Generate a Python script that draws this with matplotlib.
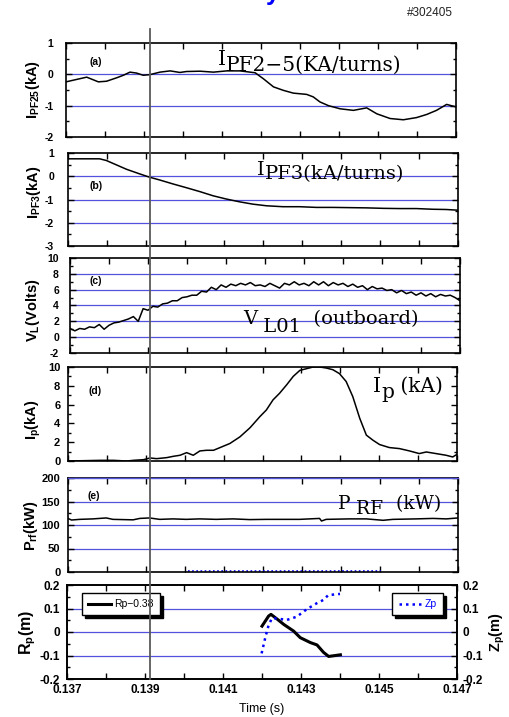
import numpy as np
import matplotlib
matplotlib.use("Agg")
import matplotlib.pyplot as plt
from matplotlib.ticker import MultipleLocator, FixedLocator, FuncFormatter

plt.rcParams['font.family'] = ['Liberation Sans', 'DejaVu Sans']
plt.rcParams['font.weight'] = 'bold'
plt.rcParams['mathtext.fontset'] = 'custom'
plt.rcParams['mathtext.bf'] = 'Liberation Sans:bold'
plt.rcParams['mathtext.rm'] = 'Liberation Sans:bold'
plt.rcParams['axes.unicode_minus'] = False

# ---------------- data ----------------
time_ticks = [0.137, 0.139, 0.141, 0.143, 0.145, 0.147]

t_pf25 = [0.13700, 0.13753, 0.13783, 0.13804, 0.13830, 0.13847, 0.13864, 0.13881, 0.13898,
          0.13915, 0.13941, 0.13967, 0.13992, 0.14009, 0.14044, 0.14078, 0.14112, 0.14146,
          0.14172, 0.14185, 0.14206, 0.14232, 0.14257, 0.14283, 0.14317, 0.14334, 0.14351,
          0.14373, 0.14403, 0.14437, 0.14471, 0.14497, 0.14531, 0.14565, 0.14599, 0.14625,
          0.14650, 0.14676, 0.14700]
i_pf25 = [-0.24, -0.09, -0.24, -0.22, -0.11, -0.03, 0.07, 0.04, -0.03,
          -0.01, 0.07, 0.11, 0.06, 0.09, 0.10, 0.07, 0.11, 0.11,
          0.07, 0.05, -0.14, -0.40, -0.51, -0.60, -0.64, -0.72, -0.88,
          -1.00, -1.10, -1.15, -1.07, -1.26, -1.41, -1.45, -1.38, -1.28,
          -1.15, -0.96, -1.04]

t_pf3 = [0.13700, 0.13781, 0.13798, 0.13824, 0.13850, 0.13884, 0.13909, 0.13935, 0.13969,
         0.14003, 0.14038, 0.14072, 0.14106, 0.14140, 0.14174, 0.14209, 0.14251, 0.14294,
         0.14337, 0.14379, 0.14422, 0.14465, 0.14508, 0.14550, 0.14593, 0.14636, 0.14670,
         0.14700]
i_pf3 = [0.75, 0.75, 0.68, 0.49, 0.30, 0.10, -0.04, -0.16, -0.33,
         -0.49, -0.66, -0.84, -0.98, -1.10, -1.20, -1.27, -1.31, -1.31,
         -1.34, -1.34, -1.35, -1.36, -1.38, -1.39, -1.39, -1.42, -1.43,
         -1.46]

v_loop = [1.1, 0.8, 1.1, 1.0, 1.3, 1.2, 1.6, 1.0, 1.5, 1.8, 1.9, 2.1, 2.3, 2.6, 2.0, 3.6,
          3.4, 3.9, 3.8, 4.2, 4.3, 4.6, 4.6, 5.0, 5.1, 5.3, 5.3, 5.8, 5.7, 6.3, 6.0, 6.6,
          6.3, 6.7, 6.5, 6.8, 6.6, 6.9, 6.5, 6.6, 6.4, 6.8, 6.5, 6.2, 6.8, 6.6, 7.0, 6.6,
          6.8, 6.5, 7.0, 6.6, 7.0, 6.5, 6.9, 6.6, 6.8, 6.4, 6.7, 6.3, 6.5, 6.0, 6.4, 6.1,
          6.2, 5.9, 6.0, 5.6, 5.9, 5.5, 5.7, 5.3, 5.6, 5.2, 5.5, 5.1, 5.4, 5.2, 5.3, 5.0,
          4.6]
t_vloop = np.linspace(0.137, 0.147, len(v_loop))

t_ip = [0.13700, 0.13783, 0.13817, 0.13851, 0.13868, 0.13894, 0.13911, 0.13928, 0.13954,
        0.13971, 0.13988, 0.14005, 0.14022, 0.14039, 0.14056, 0.14074, 0.14091, 0.14116,
        0.14142, 0.14168, 0.14193, 0.14210, 0.14227, 0.14244, 0.14262, 0.14279, 0.14296,
        0.14313, 0.14330, 0.14347, 0.14364, 0.14381, 0.14398, 0.14415, 0.14432, 0.14450,
        0.14467, 0.14484, 0.14501, 0.14526, 0.14552, 0.14578, 0.14603, 0.14621, 0.14646,
        0.14672, 0.14689, 0.14700]
ip = [0.0, 0.07, 0.07, 0.0, 0.07, 0.14, 0.32, 0.25, 0.36,
      0.50, 0.61, 0.89, 0.61, 1.07, 1.14, 1.14, 1.43, 1.86,
      2.57, 3.54, 4.71, 5.43, 6.50, 7.21, 8.10, 9.00, 9.64,
      9.82, 10.0, 10.0, 9.89, 9.71, 9.29, 8.46, 6.86, 4.54,
      2.75, 2.21, 1.75, 1.43, 1.32, 1.07, 0.79, 0.96, 0.79,
      0.61, 0.43, 0.71]

t_prf = [0.13700, 0.13709, 0.13730, 0.13764, 0.13798, 0.13815, 0.13867, 0.13884, 0.13909,
         0.13935, 0.13969, 0.14003, 0.14038, 0.14080, 0.14123, 0.14166, 0.14209, 0.14251,
         0.14294, 0.14345, 0.14350, 0.14362, 0.14422, 0.14465, 0.14508, 0.14533, 0.14593,
         0.14636, 0.14670, 0.14700]
p_rf = [114, 110.6, 112, 113, 115, 112, 111, 114, 115,
        112, 113, 112, 113, 112, 113, 111.5, 112, 112,
        112, 114, 108.5, 112, 113, 113, 110, 112, 113,
        114, 113, 115]
t_prf_low = [0.14008, 0.14503]
p_rf_low = [1.5, 1.5]

t_rp = [0.14200, 0.14217, 0.14223, 0.14238, 0.14256, 0.14281, 0.14298, 0.14324, 0.14341,
        0.14358, 0.14371, 0.14384, 0.14401]
rp = [0.025, 0.068, 0.075, 0.056, 0.032, 0.004, -0.024, -0.045, -0.055,
      -0.087, -0.104, -0.101, -0.097]

t_zp = [0.14199, 0.14208, 0.14216, 0.14225, 0.14238, 0.14263, 0.14289, 0.14315, 0.14340,
        0.14357, 0.14370, 0.14400]
zp = [-0.091, -0.027, 0.023, 0.058, 0.058, 0.051, 0.065, 0.097, 0.122,
      0.136, 0.157, 0.162]

t_marker = 0.13912
shot = "#302405"

# ---------------- layout ----------------
W, H = 510, 717
grid_c = '#5252dc'


def px_box(left, top, right, bottom):
    return [left / W, 1 - bottom / H, (right - left) / W, (bottom - top) / H]


def yfmt(v, p):
    if abs(v) < 1e-9:
        v = 0
    return f'{round(v, 6):g}'


def setup(ax, ylim, major, minor, grid_vals, labelsize, pad):
    ax.set_xlim(0.137, 0.147)
    ax.set_ylim(*ylim)
    ax.xaxis.set_major_locator(FixedLocator(time_ticks))
    ax.xaxis.set_minor_locator(MultipleLocator(0.001))
    ax.yaxis.set_major_locator(MultipleLocator(major))
    ax.yaxis.set_minor_locator(MultipleLocator(minor))
    ax.yaxis.set_major_formatter(FuncFormatter(yfmt))
    ax.xaxis.set_major_formatter(FuncFormatter(lambda v, p: f'{v:.3f}'))
    ax.tick_params(which='both', direction='in', top=True, right=True, width=1)
    ax.tick_params(which='major', length=4, labelsize=labelsize)
    ax.tick_params(axis='y', which='major', pad=pad)
    ax.tick_params(axis='y', which='minor', length=2.5)
    ax.tick_params(axis='x', which='minor', length=4)
    for s in ax.spines.values():
        s.set_linewidth(1.2)
    for g in grid_vals:
        ax.axhline(g, color=grid_c, lw=0.9, zorder=1)


def big_label(ax, x, y, parts, size):
    # parts: list of (text, vertical offset in points relative to the first part)
    first = ax.text(x, y, parts[0][0], transform=ax.transAxes, va='bottom', ha='left',
                    fontfamily='DejaVu Serif', fontweight='normal', fontsize=size)
    prev, prev_off = first, 0.0
    for txt, off in parts[1:]:
        prev = ax.annotate(txt, xy=(1, 0), xycoords=prev, xytext=(0, off - prev_off),
                           textcoords='offset points', va='bottom', ha='left',
                           fontfamily='DejaVu Serif', fontweight='normal', fontsize=size)
        prev_off = off


fig = plt.figure(figsize=(W / 100, H / 100), dpi=100)

ax_a = fig.add_axes(px_box(66, 43, 456, 137))
ax_b = fig.add_axes(px_box(68, 153, 458, 246))
ax_c = fig.add_axes(px_box(70, 258, 460, 353))
ax_d = fig.add_axes(px_box(68, 367, 457, 461))
ax_e = fig.add_axes(px_box(68, 478, 458, 572))
ax_f = fig.add_axes(px_box(67, 585, 457, 679))

setup(ax_a, (-2, 1), 1, 0.5, [0, -1], 7.5, 9)
setup(ax_b, (-3, 1), 1, 0.5, [0, -1, -2], 7.5, 10)
setup(ax_c, (-2, 10), 2, 1, [0, 2, 4, 6, 8], 7.5, 8)
setup(ax_d, (0, 10), 2, 1, [], 8, 5.5)
setup(ax_e, (0, 200), 50, 25, [50, 100, 150], 8, 5.5)
setup(ax_f, (-0.2, 0.2), 0.1, 0.05, [0.1, 0, -0.1], 8.5, 5)
ax_e.axhline(200, color=grid_c, lw=1.0, zorder=3, clip_on=False)

for ax in (ax_a, ax_b, ax_c, ax_d, ax_e):
    ax.tick_params(axis='x', labelbottom=False)

lk = dict(color='black', lw=1.1)
ax_a.plot(t_pf25, i_pf25, **lk)
ax_b.plot(t_pf3, i_pf3, **lk)
ax_c.plot(t_vloop, v_loop, **lk)
ax_d.plot(t_ip, ip, **lk)
ax_e.plot(t_prf, p_rf, **lk)
ax_e.plot(t_prf_low, p_rf_low, color='blue', lw=1.2, ls=(0, (1, 1.5)))

# panel tags
for ax, tag, x, y in [(ax_a, '(a)', 0.077, 0.80), (ax_b, '(b)', 0.072, 0.65),
                      (ax_c, '(c)', 0.067, 0.758), (ax_d, '(d)', 0.069, 0.745),
                      (ax_e, '(e)', 0.067, 0.81)]:
    ax.text(x, y, tag, transform=ax.transAxes, ha='center', va='center', fontsize=7.5)

# y labels
ylabs = [(ax_a, r'$\mathbf{I}_{\mathbf{PF25}}\mathbf{(kA)}$', -0.062, 0.5, 10.5),
         (ax_b, r'$\mathbf{I}_{\mathbf{PF3}}\mathbf{(kA)}$', -0.064, 0.58, 10.5),
         (ax_c, r'$\mathbf{V}_{\mathbf{L}}\mathbf{(Volts)}$', -0.072, 0.45, 10.5),
         (ax_d, r'$\mathbf{I}_{\mathbf{p}}\mathbf{(kA)}$', -0.064, 0.436, 10.5),
         (ax_e, r'$\mathbf{P}_{\mathbf{rf}}\mathbf{(kW)}$', -0.072, 0.49, 10.5),
         (ax_f, r'$\mathbf{R}_{\mathbf{p}}\mathbf{(m)}$', -0.074, 0.5, 11.5)]
for ax, lab, x, y, fs in ylabs:
    ax.set_ylabel(lab, fontsize=fs)
    ax.yaxis.set_label_coords(x, y)

# big annotations inside panels
big_label(ax_a, 0.39, 0.72, [('I', 0), ('PF2\u22125(KA/turns)', -4)], 14.5)
big_label(ax_b, 0.485, 0.72, [('I', 0), ('PF3(kA/turns)', -3)], 14)
big_label(ax_c, 0.444, 0.26, [('V', 0), (' L01', -5.5), ('  (outboard)', 0)], 14)
big_label(ax_d, 0.784, 0.69, [('I', 0), ('p', -4), (' (kA)', 0)], 14.5)
big_label(ax_e, 0.692, 0.63, [('P', 0), (' RF', -3.6), ('  (kW)', 0)], 13.5)

# bottom panel: Rp (left) and Zp (right)
ln_r, = ax_f.plot(t_rp, rp, color='black', lw=2.2, label='Rp\u22120.38')
ax_f2 = ax_f.twinx()
ax_f2.set_ylim(-0.2, 0.2)
ax_f2.yaxis.set_major_locator(MultipleLocator(0.1))
ax_f2.yaxis.set_minor_locator(MultipleLocator(0.05))
ax_f2.yaxis.set_major_formatter(FuncFormatter(yfmt))
ax_f2.tick_params(which='both', direction='in', width=1, labelsize=8.5, pad=4)
ax_f2.tick_params(which='major', length=4)
ax_f2.tick_params(which='minor', length=2.5)
for s in ax_f2.spines.values():
    s.set_linewidth(1.2)
ln_z, = ax_f2.plot(t_zp, zp, color='blue', lw=1.8, ls=(0, (1, 1.6)), label='Zp')
ax_f2.set_ylabel(r'$\mathbf{Z}_{\mathbf{p}}\mathbf{(m)}$', fontsize=10.5, rotation=90)
ax_f2.yaxis.set_label_coords(1.077, 0.5)

shadow = {'color': 'black', 'alpha': 1}
leg1 = ax_f.legend(handles=[ln_r], loc='upper left', bbox_to_anchor=(0.038, 0.915),
                   borderaxespad=0, fancybox=False, edgecolor='black', framealpha=1,
                   shadow=shadow, prop={'weight': 'normal', 'size': 7.5},
                   handlelength=2.2, handletextpad=0.3, borderpad=0.6)
leg1.get_frame().set_linewidth(1.0)
leg2 = ax_f2.legend(handles=[ln_z], loc='upper right', bbox_to_anchor=(0.964, 0.915),
                    borderaxespad=0, fancybox=False, edgecolor='black', framealpha=1,
                    shadow=shadow, prop={'weight': 'normal', 'size': 7.5},
                    handlelength=2.2, handletextpad=0.3, borderpad=0.6, labelcolor='blue')
leg2.get_frame().set_linewidth(1.0)

ax_f.set_xlabel('Time (s)', fontsize=9, labelpad=5)

# vertical time marker through all panels
ax_f2.axvline(t_marker, ymin=0, ymax=(679 - 29) / 94, clip_on=False,
              color='#5a5a5a', lw=1.3, zorder=5)

fig.text(453 / W, 1 - 13 / H, shot, ha='right', va='center', fontsize=8.5,
         fontweight='normal', color='#222222')
fig.text(0.522, 1.0, 'y', ha='left', va='baseline', fontsize=18, color='blue')

fig.savefig('out.png', dpi=100)
